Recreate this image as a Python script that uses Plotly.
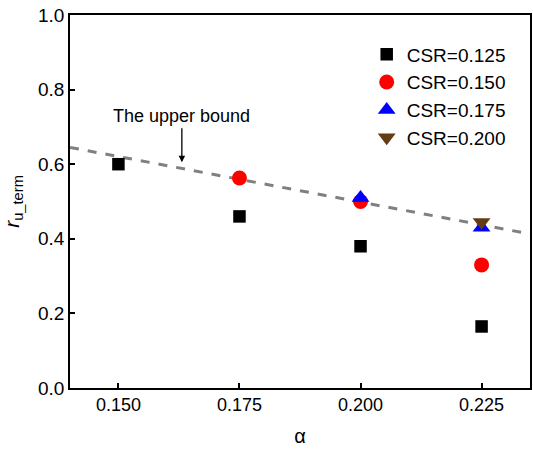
import plotly.graph_objects as go

alpha_125 = [0.150, 0.175, 0.200, 0.225]
r_125 = [0.600, 0.460, 0.380, 0.165]
alpha_150 = [0.175, 0.200, 0.225]
r_150 = [0.563, 0.500, 0.330]
alpha_175 = [0.200, 0.225]
r_175 = [0.510, 0.430]
alpha_200 = [0.225]
r_200 = [0.445]
bound_x = [0.140, 0.235]
bound_y = [0.645, 0.413]

font = "Arial"
fig = go.Figure()
fig.add_trace(go.Scatter(x=bound_x, y=bound_y, mode="lines", showlegend=False,
                         line=dict(color="#808080", width=3, dash="dash")))
fig.add_trace(go.Scatter(x=alpha_125, y=r_125, mode="markers", name="CSR=0.125",
                         marker=dict(symbol="square", size=12.5, color="black")))
fig.add_trace(go.Scatter(x=alpha_150, y=r_150, mode="markers", name="CSR=0.150",
                         marker=dict(symbol="circle", size=15, color="red")))
fig.add_trace(go.Scatter(x=alpha_175, y=r_175, mode="markers", name="CSR=0.175",
                         marker=dict(symbol="triangle-up", size=15.5, color="blue")))
fig.add_trace(go.Scatter(x=alpha_200, y=r_200, mode="markers", name="CSR=0.200",
                         marker=dict(symbol="triangle-down", size=15.5, color="#633c14")))

fig.add_annotation(x=0.1631, y=0.605, ax=0, ay=-34, text="The upper bound",
                   showarrow=True, arrowhead=2, arrowsize=1, arrowwidth=1.3,
                   arrowcolor="black", yanchor="bottom",
                   font=dict(size=18, color="black", family=font))

fig.update_layout(
    width=533, height=452, margin=dict(l=70, r=1, t=15, b=64),
    plot_bgcolor="#ffffff", paper_bgcolor="#ffffff",
    xaxis=dict(range=[0.140, 0.235], dtick=0.025, tick0=0.15, tickformat=".3f",
               showline=True, linecolor="black", linewidth=1.5, mirror=True,
               ticks="inside", ticklen=5, tickwidth=1.5, tickcolor="black",
               showgrid=False, zeroline=False,
               tickfont=dict(size=18, color="black", family=font),
               title=dict(text="α", font=dict(size=20, color="black", family=font))),
    yaxis=dict(range=[0, 1.0], dtick=0.2, tickformat=".1f",
               showline=True, linecolor="black", linewidth=1.5, mirror=True,
               ticks="inside", ticklen=5, tickwidth=1.5, tickcolor="black",
               showgrid=False, zeroline=False,
               tickfont=dict(size=19, color="black", family=font),
               title=dict(text="<i>r</i><sub>u_term</sub>", font=dict(size=21, color="black", family=font))),
    legend=dict(x=0.645, y=0.945, xanchor="left", yanchor="top",
                font=dict(size=19, color="black", family=font)))
fig.write_html("out.html")
